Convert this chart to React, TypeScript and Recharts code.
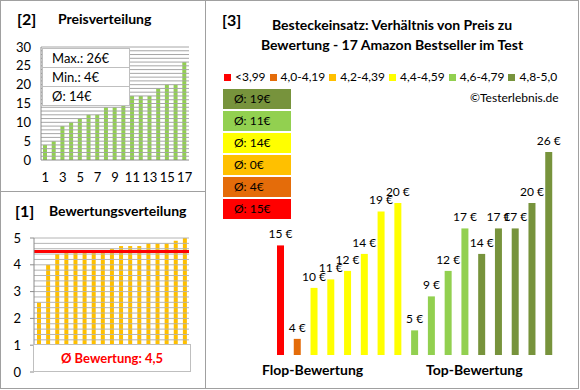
import React from "react";
import { BarChart, Bar, XAxis, YAxis, ReferenceLine, LabelList, Cell } from "recharts";

const FONT = "Lato, 'Open Sans', sans-serif";
const BORDER = "#A0A0A0";

// [2] Preisverteilung (sortiert)
const priceRanks = [1, 2, 3, 4, 5, 6, 7, 8, 9, 10, 11, 12, 13, 14, 15, 16, 17];
const sortedPrices = [4, 5, 9, 10, 11, 12, 12, 14, 14, 15, 17, 17, 17, 19, 20, 20, 26];
const priceTicks = [0, 5, 10, 15, 20, 25, 30];
const priceGrid = [1, 2, 3, 4, 5, 6, 7, 8, 9, 10, 11, 12, 13, 14, 15, 16, 17, 18, 19, 20, 21, 22, 23, 24, 25, 26, 27, 28, 29, 30];
const priceStats = ["Max.: 26€", "Min.: 4€", "Ø: 14€"];

// [1] Bewertungsverteilung (sortiert)
const sortedRatings = [2.6, 4.0, 4.4, 4.5, 4.5, 4.5, 4.5, 4.5, 4.6, 4.7, 4.7, 4.7, 4.8, 4.8, 4.8, 4.9, 5.0];
const ratingTicks = [0, 1, 2, 3, 4, 5];
const ratingGrid = [0.2, 0.4, 0.6, 0.8, 1, 1.2, 1.4, 1.6, 1.8, 2, 2.2, 2.4, 2.6, 2.8, 3, 3.2, 3.4, 3.6, 3.8, 4, 4.2, 4.4, 4.6, 4.8, 5];
const avgRating = 4.5;
const avgRatingLabel = "Ø Bewertung: 4,5";

// [3] Preis zu Bewertung
const groupLabels = ["<3,99", "4,0-4,19", "4,2-4,39", "4,4-4,59", "4,6-4,79", "4,8-5,0"];
const groupColors = ["#FF0000", "#E46C0A", "#FFC000", "#FFFF00", "#92D050", "#77933C"];
const groupAverages = ["Ø: 15€", "Ø: 4€", "Ø: 0€", "Ø: 14€", "Ø: 11€", "Ø: 19€"];
const barPrices = [15, 4, 10, 11, 12, 14, 19, 20, 5, 9, 12, 17, 14, 17, 17, 20, 26];
const barGroups = [0, 1, 3, 3, 3, 3, 3, 3, 4, 4, 4, 4, 5, 5, 5, 5, 5];

const priceData = priceRanks.map((r, i) => ({ rank: r, price: sortedPrices[i] }));
const ratingData = sortedRatings.map((v, i) => ({ idx: i + 1, rating: v }));
const mainData = barPrices.map((p, i) => ({ idx: i + 1, price: p, group: barGroups[i] }));

const abs = (left: number, top: number, extra: React.CSSProperties = {}): React.CSSProperties => ({
  position: "absolute",
  left,
  top,
  ...extra,
});

const EuroLabel = (props: any) => {
  const { x, y, width, value } = props;
  return (
    <text x={Number(x) + Number(width) / 2} y={Number(y) - 7} textAnchor="middle" fontSize={12} fill="#000">
      {`${value} €`}
    </text>
  );
};

export default function App() {
  return (
    <div
      style={{
        position: "absolute",
        left: 0,
        top: 0,
        width: 580,
        height: 390,
        background: "#fff",
        fontFamily: FONT,
        color: "#000",
      }}
    >
      {/* frames */}
      <div style={abs(0, 0, { width: 579, height: 389, border: `1px solid ${BORDER}`, boxSizing: "border-box" })} />
      <div style={abs(205, 0, { width: 1, height: 389, background: BORDER })} />
      <div style={abs(0, 191, { width: 205, height: 1, background: BORDER })} />

      {/* [2] Preisverteilung */}
      <div style={abs(17, 9, { fontSize: 16, fontWeight: 700 })}>[2]</div>
      <div style={abs(58, 10, { fontSize: 14, fontWeight: 700 })}>Preisverteilung</div>
      <div style={abs(0, 0)}>
        <BarChart width={205} height={192} data={priceData} margin={{ top: 47, right: 16, bottom: 0, left: 0 }}>
          <XAxis
            dataKey="rank"
            interval={1}
            height={32}
            tickLine={false}
            tickMargin={7}
            axisLine={{ stroke: "#8C8C8C" }}
            tick={{ fontSize: 13, fill: "#000" }}
          />
          <YAxis
            domain={[0, 30]}
            ticks={priceTicks}
            interval={0}
            width={41}
            tickLine={false}
            tickMargin={4}
            axisLine={{ stroke: "#8C8C8C" }}
            tick={{ fontSize: 13, fill: "#000" }}
          />
          {priceGrid.map((v) => (
            <ReferenceLine key={v} y={v} stroke="#A6A6A6" />
          ))}
          <Bar dataKey="price" fill="#92D050" barSize={4} isAnimationActive={false} />
        </BarChart>
      </div>
      <div style={abs(42, 48, { width: 88, background: "#fff", border: "1px solid #BFBFBF", boxSizing: "border-box" })}>
        {priceStats.map((s, i) => (
          <div
            key={s}
            style={{
              height: 18,
              lineHeight: "18px",
              fontSize: 13,
              paddingLeft: 9,
              borderTop: i === 0 ? "none" : "1px solid #BFBFBF",
            }}
          >
            {s}
          </div>
        ))}
      </div>

      {/* [1] Bewertungsverteilung */}
      <div style={abs(15, 201, { fontSize: 16, fontWeight: 700 })}>[1]</div>
      <div style={abs(49, 202, { fontSize: 14, fontWeight: 700 })}>Bewertungsverteilung</div>
      <div style={abs(0, 192)}>
        <BarChart width={205} height={196} data={ratingData} margin={{ top: 46, right: 16, bottom: 16, left: 0 }}>
          <XAxis dataKey="idx" hide />
          <YAxis
            domain={[0, 5]}
            ticks={ratingTicks}
            interval={0}
            width={34}
            tickSize={4}
            tickMargin={9}
            tickLine={{ stroke: "#8C8C8C" }}
            axisLine={{ stroke: "#8C8C8C" }}
            tick={{ fontSize: 13, fill: "#000" }}
          />
          {ratingGrid.map((v) => (
            <ReferenceLine key={v} y={v} stroke="#B4B4B4" />
          ))}
          <Bar dataKey="rating" fill="#FFC000" barSize={4} isAnimationActive={false} />
          <ReferenceLine y={avgRating} stroke="#FF0000" strokeWidth={3} />
        </BarChart>
      </div>
      <div
        style={abs(33, 344, {
          width: 158,
          height: 28,
          background: "#fff",
          border: "1px solid #BFBFBF",
          boxSizing: "border-box",
          textAlign: "center",
          lineHeight: "26px",
          color: "#FF0000",
          fontWeight: 700,
          fontSize: 13,
        })}
      >
        {avgRatingLabel}
      </div>

      {/* [3] Preis zu Bewertung */}
      <div style={abs(222, 10, { fontSize: 16, fontWeight: 700 })}>[3]</div>
      <div
        style={abs(206, 15, {
          width: 372,
          textAlign: "center",
          fontSize: 14,
          fontWeight: 700,
          lineHeight: "20px",
        })}
      >
        Besteckeinsatz: Verhältnis von Preis zu
        <br />
        Bewertung - 17 Amazon Bestseller im Test
      </div>
      <div style={abs(224, 69, { display: "flex", alignItems: "center", fontSize: 12, lineHeight: "16px" })}>
        {groupLabels.map((g, i) => (
          <div key={g} style={{ display: "flex", alignItems: "center", marginRight: 4 }}>
            <span style={{ width: 7, height: 7, background: groupColors[i], marginRight: 4, display: "inline-block" }} />
            <span>{g}</span>
          </div>
        ))}
      </div>
      <div style={abs(470, 90, { fontSize: 12 })}>©Testerlebnis.de</div>
      <div style={abs(223, 89)}>
        {groupAverages
          .map((a, i) => ({ a, c: groupColors[i] }))
          .reverse()
          .map(({ a, c }) => (
            <div
              key={a + c}
              style={{
                width: 68,
                height: 20,
                marginBottom: 2,
                background: c,
                fontSize: 12,
                lineHeight: "20px",
                paddingLeft: 11,
                boxSizing: "border-box",
              }}
            >
              {a}
            </div>
          ))}
      </div>
      <div style={abs(205, 0)}>
        <BarChart width={373} height={388} data={mainData} margin={{ top: 118, right: 21, bottom: 33, left: 67 }}>
          <XAxis dataKey="idx" hide />
          <YAxis domain={[2.1, 30]} allowDataOverflow hide />
          <Bar dataKey="price" barSize={7} isAnimationActive={false}>
            {mainData.map((d, i) => (
              <Cell key={i} fill={groupColors[d.group]} />
            ))}
            <LabelList dataKey="price" content={EuroLabel} />
          </Bar>
        </BarChart>
      </div>
      <div style={abs(262, 361, { fontSize: 14, fontWeight: 700 })}>Flop-Bewertung</div>
      <div style={abs(426, 361, { fontSize: 14, fontWeight: 700 })}>Top-Bewertung</div>
    </div>
  );
}
